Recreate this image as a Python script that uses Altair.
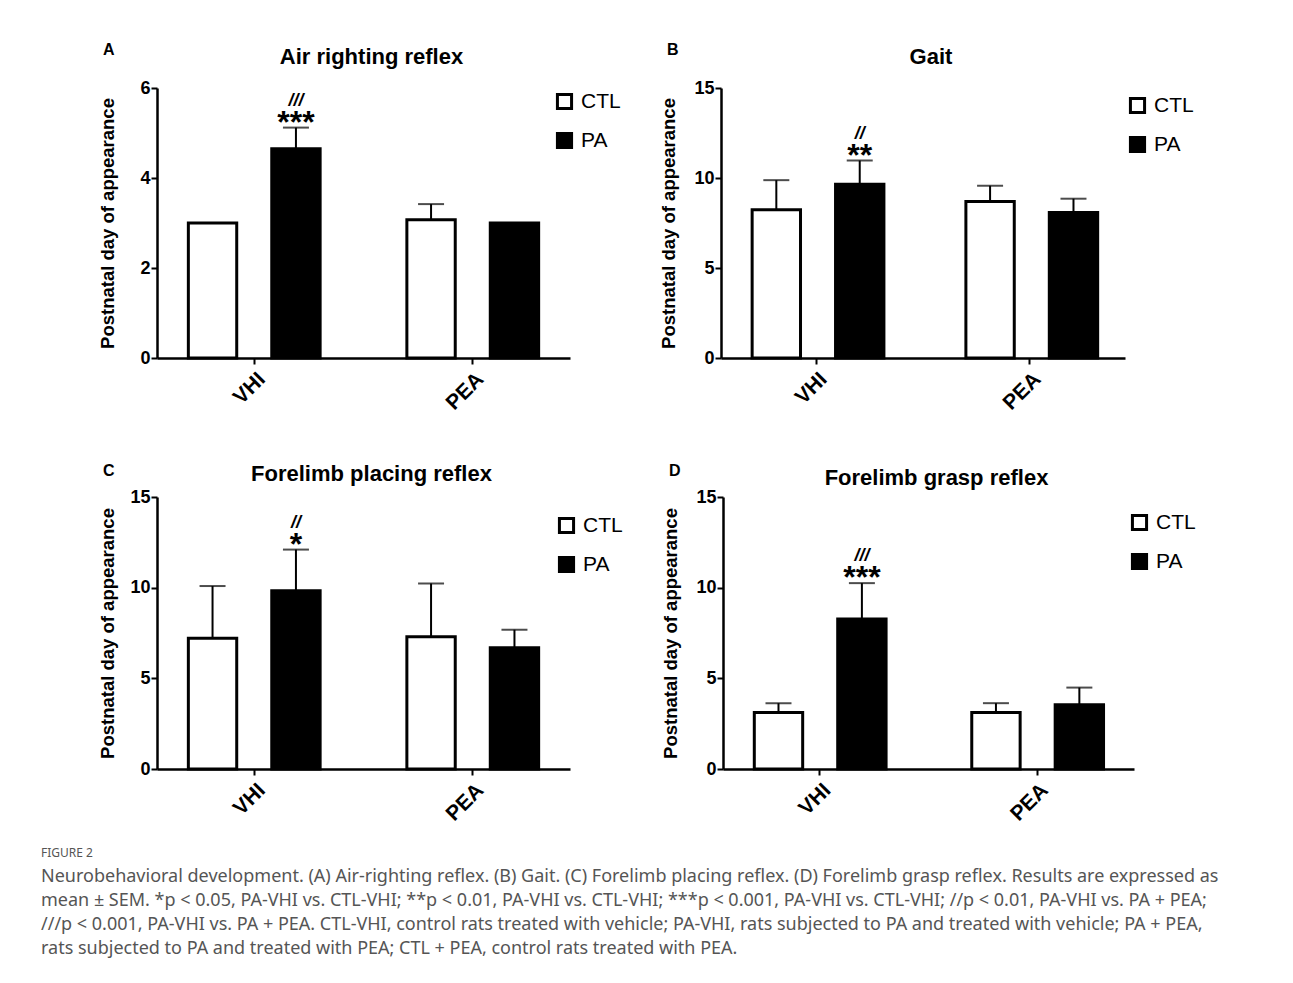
import altair as alt
import pandas as pd

groups = ["VHI", "PEA"]
series = ["CTL", "PA"]

# order: VHI-CTL, VHI-PA, PEA-CTL, PEA-PA
a_mean = [3.0, 4.65, 3.07, 3.0]
a_sem = [0.0, 0.47, 0.35, 0.0]
b_mean = [8.23, 9.65, 8.70, 8.09]
b_sem = [1.65, 1.32, 0.87, 0.76]
c_mean = [7.21, 9.83, 7.30, 6.69]
c_sem = [2.88, 2.27, 2.93, 0.99]
d_mean = [3.12, 8.27, 3.12, 3.54]
d_sem = [0.51, 1.98, 0.51, 0.95]

stars = {"A": "***", "B": "**", "C": "*", "D": "***"}
slashes = {"A": "///", "B": "//", "C": "//", "D": "///"}

titles = {"A": "Air righting reflex", "B": "Gait",
          "C": "Forelimb placing reflex", "D": "Forelimb grasp reflex"}
y_max = {"A": 6, "B": 15, "C": 15, "D": 15}
y_ticks = {"A": [0, 2, 4, 6], "B": [0, 5, 10, 15], "C": [0, 5, 10, 15], "D": [0, 5, 10, 15]}

caption_head = "FIGURE 2"
caption_lines = [
    "Neurobehavioral development. (A) Air-righting reflex. (B) Gait. (C) Forelimb placing reflex. (D) Forelimb grasp reflex. Results are expressed as",
    "mean \u00b1 SEM. *p < 0.05, PA-VHI vs. CTL-VHI; **p < 0.01, PA-VHI vs. CTL-VHI; ***p < 0.001, PA-VHI vs. CTL-VHI; //p < 0.01, PA-VHI vs. PA + PEA;",
    "///p < 0.001, PA-VHI vs. PA + PEA. CTL-VHI, control rats treated with vehicle; PA-VHI, rats subjected to PA and treated with vehicle; PA + PEA,",
    "rats subjected to PA and treated with PEA; CTL + PEA, control rats treated with PEA.",
]

FONT = "Liberation Sans"


def panel(letter, mean, sem, width, height, legend_x, legend_y, letter_y, title_y, title_x_off):
    rows = []
    i = 0
    for g in groups:
        for s in series:
            rows.append({"group": g, "series": s, "mean": mean[i], "sem": sem[i],
                         "top": mean[i] + sem[i],
                         "stars": stars[letter] if (g == "VHI" and s == "PA") else "",
                         "slashes": slashes[letter] if (g == "VHI" and s == "PA") else ""})
            i += 1
    df = pd.DataFrame(rows)

    x = alt.X("group:N", sort=groups,
              scale=alt.Scale(paddingInner=0.2, paddingOuter=0.045),
              axis=alt.Axis(title=None, labelAngle=-45, labelFontSize=21, labelFontWeight="bold",
                            labelFont=FONT, labelColor="black", tickSize=6, tickWidth=2,
                            tickColor="black", domainColor="black", domainWidth=2.5,
                            labelPadding=4))
    xo = alt.XOffset("series:N", sort=series,
                     scale=alt.Scale(paddingInner=0.42, paddingOuter=0.258))
    y_scale = alt.Scale(domain=[0, y_max[letter]], nice=False)

    base = alt.Chart(df)
    bars = base.mark_bar(stroke="black", strokeWidth=3).encode(
        x=x, xOffset=xo,
        y=alt.Y("mean:Q", scale=y_scale,
                axis=alt.Axis(values=y_ticks[letter], title="Postnatal day of appearance",
                              titleFontSize=18.5, titleFontWeight="bold", titleFont=FONT,
                              titleColor="black", titleX=title_x_off, titleY=height / 2,
                              titleAngle=-90, titleAlign="center", titleBaseline="bottom",
                              labelFontSize=18, labelFontWeight="bold", labelFont=FONT,
                              labelColor="black", tickSize=6, tickWidth=2, tickColor="black",
                              domainColor="black", domainWidth=2.5, grid=False, labelPadding=1)),
        fill=alt.Fill("series:N", sort=series,
                      scale=alt.Scale(domain=series, range=["white", "black"]),
                      legend=alt.Legend(title=None, orient="none", legendX=legend_x,
                                        legendY=legend_y, symbolType="square", symbolSize=200,
                                        symbolStrokeColor="black", symbolStrokeWidth=3,
                                        labelFontSize=21, labelFont=FONT, labelColor="black",
                                        rowPadding=12, labelOffset=6, padding=0)),
    )
    err_df = base.transform_filter("datum.sem > 0")
    rules = err_df.mark_rule(color="black", strokeWidth=2).encode(
        x=x, xOffset=xo, y=alt.Y("mean:Q", scale=y_scale), y2="top:Q")
    caps = err_df.mark_tick(color="black", thickness=2, size=26, orient="horizontal").encode(
        x=x, xOffset=xo, y=alt.Y("top:Q", scale=y_scale))
    star_t = base.transform_filter("datum.stars != ''").mark_text(
        fontSize=32, fontWeight="bold", font=FONT, baseline="alphabetic", dy=5,
        color="black").encode(x=x, xOffset=xo, y=alt.Y("top:Q", scale=y_scale), text="stars:N")
    slash_t = base.transform_filter("datum.slashes != ''").mark_text(
        fontSize=18, fontWeight="bold", fontStyle="italic", font=FONT, baseline="alphabetic",
        dy=-22, color="black").encode(x=x, xOffset=xo, y=alt.Y("top:Q", scale=y_scale),
                                      text="slashes:N")
    label_df = pd.DataFrame({"t": [letter], "title": [titles[letter]]})
    letter_t = alt.Chart(label_df).mark_text(
        fontSize=16, fontWeight="bold", font=FONT, align="left", baseline="middle",
        color="black").encode(text="t:N", x=alt.value(-54), y=alt.value(letter_y))
    title_t = alt.Chart(label_df).mark_text(
        fontSize=22, fontWeight="bold", font=FONT, align="center", baseline="middle",
        color="black").encode(text="title:N", x=alt.value(width / 2 + 8), y=alt.value(title_y))

    return alt.layer(bars, rules, caps, star_t, slash_t, letter_t, title_t).properties(
        width=width, height=height)


pa = panel("A", a_mean, a_sem, 413, 270, 397, 3, -38, -31, -40)
pb = panel("B", b_mean, b_sem, 404, 270, 406, 7, -38, -31, -43)
pc = panel("C", c_mean, c_sem, 413, 272, 399, 18, -26, -23, -40)
pd_ = panel("D", d_mean, d_sem, 411, 272, 406, 15, -26, -19, -43)

row1 = alt.hconcat(pa, pb, spacing=37).resolve_scale(fill="independent", y="independent", x="independent").resolve_legend(fill="independent")
row2 = alt.hconcat(pc, pd_, spacing=37).resolve_scale(fill="independent", y="independent", x="independent").resolve_legend(fill="independent")

chart = alt.vconcat(row1, row2, spacing=49).resolve_scale(
    fill="independent", y="independent", x="independent").resolve_legend(fill="independent").properties(
    title=alt.TitleParams(caption_head, orient="bottom", anchor="start", fontSize=12,
                          fontWeight="normal", font="Noto Sans", color="#555555",
                          subtitle=caption_lines, subtitleFont="Noto Sans",
                          subtitleFontSize=18, subtitleColor="#555555",
                          subtitleLineHeight=24, subtitlePadding=8, offset=24, dx=-57),
    padding={"left": 32, "top": 34, "right": 5, "bottom": 5},
).configure_view(stroke=None)

chart.save("out.html", embed_options={"renderer": "svg", "actions": False})
